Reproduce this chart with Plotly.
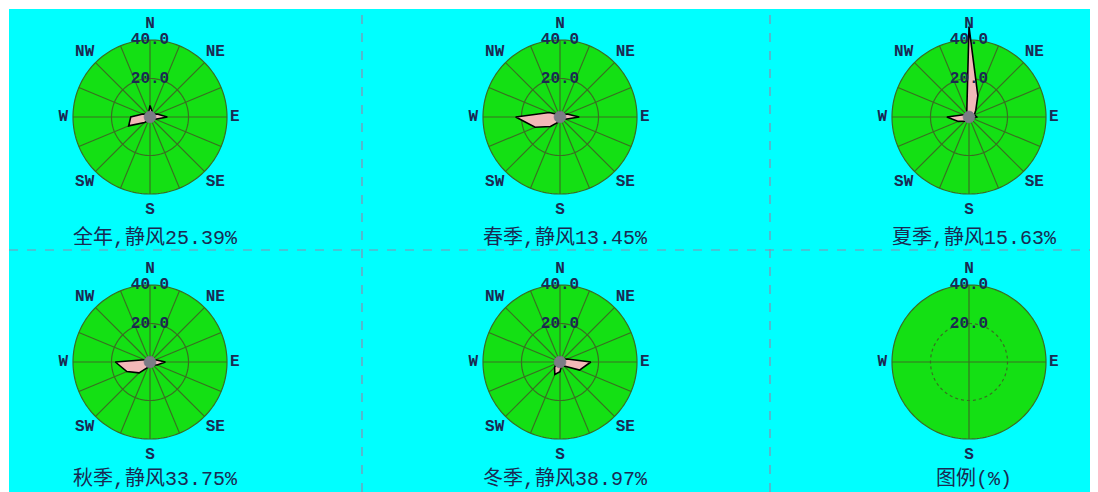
import plotly.graph_objects as go

# ---- data -------------------------------------------------------------
directions = ["N", "NNE", "NE", "ENE", "E", "ESE", "SE", "SSE",
              "S", "SSW", "SW", "WSW", "W", "WNW", "NW", "NNW"]
bearings = [i * 22.5 for i in range(16)]

season_titles = ["全年,静风25.39%", "春季,静风13.45%", "夏季,静风15.63%",
                 "秋季,静风33.75%", "冬季,静风38.97%", "图例(%)"]

freq_year = [6, 3, 2, 4, 9, 3, 2, 1.5, 1.5, 2, 4, 12, 10, 4, 2, 2]
freq_spring = [3, 2, 1.5, 4, 10, 3, 2, 1.5, 1.5, 3, 7, 14, 23, 6, 2, 2]
freq_summer = [47, 12, 5, 3, 4, 2, 1.5, 1.5, 1.5, 2, 3, 6, 11.5, 3, 2, 3]
freq_autumn = [3, 2, 1.5, 3, 8, 4, 2, 1.5, 1.5, 3, 8, 13, 18, 3, 2, 2]
freq_winter = [3, 2, 2, 4, 16, 11, 3, 2, 5, 7, 4, 2, 2, 2, 2, 2]
season_freqs = [freq_year, freq_spring, freq_summer, freq_autumn, freq_winter, None]

ring_values = [20, 40]
ring_labels = ["20.0", "40.0"]

# ---- layout constants -------------------------------------------------
W, H = 1098, 492
col_x = [150, 560, 969]
row_y = [117, 362]
PX_PER_UNIT = 77 / 40
RMAX = 50
RPX = RMAX * PX_PER_UNIT

CYAN = "#00ffff"
GREEN = "#14e014"
GRID = "#3a6e22"
PINK = "#f2b8b8"
TEXT = "#1b2a52"
CALM = "#7c7c86"

label_font = dict(family="Liberation Mono, DejaVu Sans Mono, monospace", size=16,
                  color=TEXT, weight="bold")
title_font = dict(family="Liberation Mono, Noto Sans CJK SC, monospace", size=20, color=TEXT)

# label radius per compass point (in radial units)
label_r = {"N": 48.5, "NE": 48, "E": 44, "SE": 48, "S": 48.5, "SW": 48, "W": 45, "NW": 48}
label_theta = {"N": 0, "NE": 45, "E": 90, "SE": 135, "S": 180, "SW": 225, "W": 270, "NW": 315}

circle_theta = [i * 2 for i in range(181)]

fig = go.Figure()
layout_polars = {}

for idx, (title, freqs) in enumerate(zip(season_titles, season_freqs)):
    r_i, c_i = divmod(idx, 3)
    cx, cy = col_x[c_i], row_y[r_i]
    name = "polar" if idx == 0 else f"polar{idx + 1}"
    sub = name

    layout_polars[name] = dict(
        domain=dict(x=[(cx - RPX) / W, (cx + RPX) / W],
                    y=[1 - (cy + RPX) / H, 1 - (cy - RPX) / H]),
        bgcolor="rgba(0,0,0,0)",
        radialaxis=dict(range=[0, RMAX], visible=False),
        angularaxis=dict(rotation=90, direction="clockwise", visible=False),
    )

    # green disk with outer ring
    fig.add_trace(go.Scatterpolar(
        r=[40] * len(circle_theta), theta=circle_theta, mode="lines",
        fill="toself", fillcolor=GREEN, line=dict(color=GRID, width=1.2),
        subplot=sub, hoverinfo="skip", showlegend=False))

    # spokes
    spoke_dirs = bearings if freqs is not None else [0, 90, 180, 270]
    sr, st = [], []
    for b in spoke_dirs:
        sr += [0, 40, None]
        st += [b, b, None]
    fig.add_trace(go.Scatterpolar(
        r=sr, theta=st, mode="lines", line=dict(color=GRID, width=1.2),
        subplot=sub, hoverinfo="skip", showlegend=False))

    # inner ring
    fig.add_trace(go.Scatterpolar(
        r=[ring_values[0]] * len(circle_theta), theta=circle_theta, mode="lines",
        line=dict(color=GRID, width=1.2, dash="solid" if freqs is not None else "dot"),
        subplot=sub, hoverinfo="skip", showlegend=False))

    if freqs is not None:
        # wind rose polygon
        fig.add_trace(go.Scatterpolar(
            r=freqs + [freqs[0]], theta=bearings + [bearings[0]], mode="lines",
            fill="toself", fillcolor=PINK, line=dict(color="black", width=1.6),
            subplot=sub, showlegend=False,
            text=directions + [directions[0]], hovertemplate="%{text}: %{r}%<extra></extra>"))
        # calm disc
        fig.add_trace(go.Scatterpolar(
            r=[3] * len(circle_theta), theta=circle_theta, mode="lines",
            fill="toself", fillcolor=CALM, line=dict(color=CALM, width=1),
            subplot=sub, hoverinfo="skip", showlegend=False))

    # compass labels
    pts = ["N", "NE", "E", "SE", "S", "SW", "W", "NW"] if freqs is not None else ["N", "E", "S", "W"]
    fig.add_trace(go.Scatterpolar(
        r=[label_r[p] for p in pts], theta=[label_theta[p] for p in pts],
        mode="text", text=pts, textfont=label_font, textposition="middle center",
        cliponaxis=False, subplot=sub, hoverinfo="skip", showlegend=False))

    # ring value labels
    fig.add_trace(go.Scatterpolar(
        r=ring_values, theta=[0, 0], mode="text", text=ring_labels,
        textfont=label_font, textposition="middle center",
        cliponaxis=False, subplot=sub, hoverinfo="skip", showlegend=False))

    # panel title (bottom row sits close to the lower edge)
    title_dy = 121 if r_i == 0 else 117
    fig.add_annotation(
        x=(cx + 5) / W, y=1 - (cy + title_dy) / H, xref="paper", yref="paper",
        text=title, showarrow=False, font=title_font,
        xanchor="center", yanchor="middle")

shapes = [
    dict(type="rect", xref="paper", yref="paper", x0=9 / W, x1=1090 / W,
         y0=-0.01, y1=1 - 9 / H, fillcolor=CYAN, line=dict(width=0), layer="below"),
]
for vx in [362, 770]:
    shapes.append(dict(type="line", xref="paper", yref="paper", x0=vx / W, x1=vx / W,
                       y0=0, y1=1 - 9 / H, line=dict(color="#8c8cae", width=1.2, dash="dash"),
                       layer="below"))
shapes.append(dict(type="line", xref="paper", yref="paper", x0=9 / W, x1=1090 / W,
                   y0=1 - 250 / H, y1=1 - 250 / H,
                   line=dict(color="#8c8cae", width=1.2, dash="dash"), layer="below"))

fig.update_layout(
    width=W, height=H,
    margin=dict(l=0, r=0, t=0, b=0),
    paper_bgcolor="white",
    plot_bgcolor="white",
    showlegend=False,
    shapes=shapes,
    **layout_polars,
)

fig.write_html("out.html")
